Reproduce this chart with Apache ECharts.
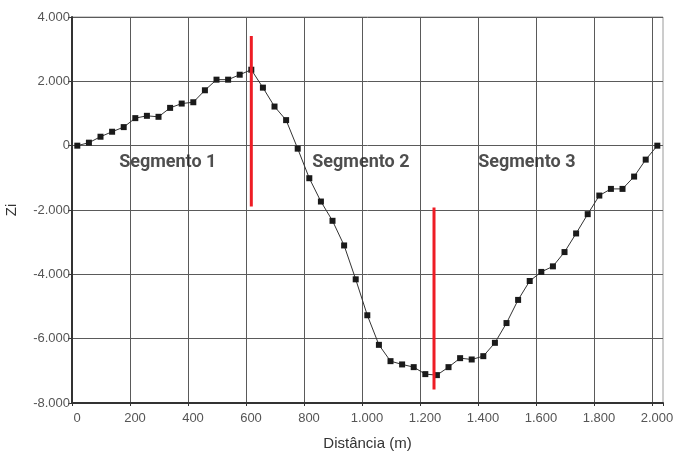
<!DOCTYPE html>
<html>
<head>
<meta charset="utf-8">
<script src="https://cdn.jsdelivr.net/npm/echarts@6/dist/echarts.min.js"></script>
<style>
	html, body { margin: 0; padding: 0; background: #fff; }
	#chart { width: 678px; height: 453px; }
</style>
</head>
<body>
<div id="chart"></div>
<script>
// distância (m) e Zi
const dist = [0, 40, 80, 120, 160, 200, 240, 280, 320, 360, 400, 440, 480, 520, 560, 600, 640, 680, 720, 760,
	800, 840, 880, 920, 960, 1000, 1040, 1080, 1120, 1160, 1200, 1240, 1280, 1320, 1360, 1400, 1440, 1480, 1520, 1560,
	1600, 1640, 1680, 1720, 1760, 1800, 1840, 1880, 1920, 1960, 2000];
const zi = [0, 93, 278, 433, 577, 856, 928, 897, 1175, 1309, 1350, 1722, 2052, 2052, 2206, 2361, 1804, 1216, 794, -93,
	-1012, -1737, -2336, -3102, -4155, -5272, -6192, -6699, -6801, -6885, -7102, -7133, -6885, -6606, -6647, -6544, -6129, -5515, -4795, -4207,
	-3925, -3752, -3308, -2729, -2129, -1551, -1344, -1344, -961, -434, 0];

// linhas vermelhas de corte
const cutX = [600, 1230];
const cutTop = [3410, -1920];
const cutBottom = [-1890, -7580];

// rótulos dos segmentos
const segNames = ['Segmento 1', 'Segmento 2', 'Segmento 3'];
const segX = [312, 978, 1550];
const segY = [-520, -520, -520];

const fmt = (v) => {
	const s = Math.abs(v).toString().replace(/\B(?=(\d{3})+(?!\d))/g, '.');
	return (v < 0 ? '-' : '') + s;
};

const labelFont = "'Liberation Sans', Arial, sans-serif";

const chart = echarts.init(document.getElementById('chart'), null, { renderer: 'canvas' });

const cutSeries = cutX.map((x, i) => ({
	type: 'line',
	xAxisIndex: 1,
	data: [[x, cutTop[i]], [x, cutBottom[i]]],
	symbol: 'none',
	lineStyle: { color: '#ee1c25', width: 3 },
	z: 5,
	silent: true
}));

const option = {
	backgroundColor: '#fff',
	animation: false,
	grid: {
		left: 72,
		right: 15,
		top: 17,
		bottom: 50,
		outerBoundsMode: 'none',
		containLabel: false,
		show: true,
		borderColor: '#9a9a9a',
		borderWidth: 1
	},
	xAxis: [{
		type: 'value',
		min: 0,
		max: 2038,
		interval: 200,
		name: 'Distância (m)',
		nameLocation: 'middle',
		nameGap: 33,
		nameTextStyle: { color: '#333', fontSize: 15, fontFamily: labelFont },
		axisLine: { show: true, onZero: false, lineStyle: { color: '#333', width: 2 } },
		axisTick: { show: true, inside: false, length: 3, lineStyle: { color: '#333' } },
		axisLabel: {
			color: '#555',
			fontSize: 13,
			fontFamily: labelFont,
			margin: 9,
			padding: [0, 0, 0, 10],
			formatter: (v) => (v > 2000 ? '' : fmt(v))
		},
		splitLine: { show: true, showMaxLine: false, lineStyle: { color: '#5a5a5a', width: 1 } }
	}, {
		// eixo oculto para os dados
		type: 'value',
		min: -18.3,
		max: 2019.6,
		show: false
	}],
	yAxis: {
		type: 'value',
		min: -8000,
		max: 4000,
		interval: 2000,
		name: 'Zi',
		nameLocation: 'middle',
		nameGap: 53,
		nameTextStyle: { color: '#333', fontSize: 15, fontFamily: labelFont },
		axisLine: { show: true, onZero: false, lineStyle: { color: '#333', width: 2 } },
		axisTick: { show: true, inside: false, length: 4, lineStyle: { color: '#333' } },
		axisLabel: {
			color: '#555',
			fontSize: 13,
			fontFamily: labelFont,
			margin: 2,
			formatter: fmt
		},
		splitLine: { show: true, lineStyle: { color: '#5a5a5a', width: 1 } }
	},
	series: [{
		name: 'Zi',
		type: 'line',
		xAxisIndex: 1,
		data: dist.map((d, i) => [d, zi[i]]),
		symbol: 'rect',
		symbolSize: 6,
		itemStyle: { color: '#1a1a1a' },
		lineStyle: { color: '#333', width: 1 },
		z: 4
	}, ...cutSeries, {
		type: 'scatter',
		xAxisIndex: 1,
		data: segNames.map((n, i) => ({ name: n, value: [segX[i], segY[i]] })),
		symbolSize: 0,
		silent: true,
		label: {
			show: true,
			position: 'inside',
			formatter: '{b}',
			color: '#222',
			fontSize: 18,
			fontWeight: 'bold',
			fontFamily: "Roboto, sans-serif"
		},
		z: 6
	}]
};

chart.setOption(option);
</script>
</body>
</html>
